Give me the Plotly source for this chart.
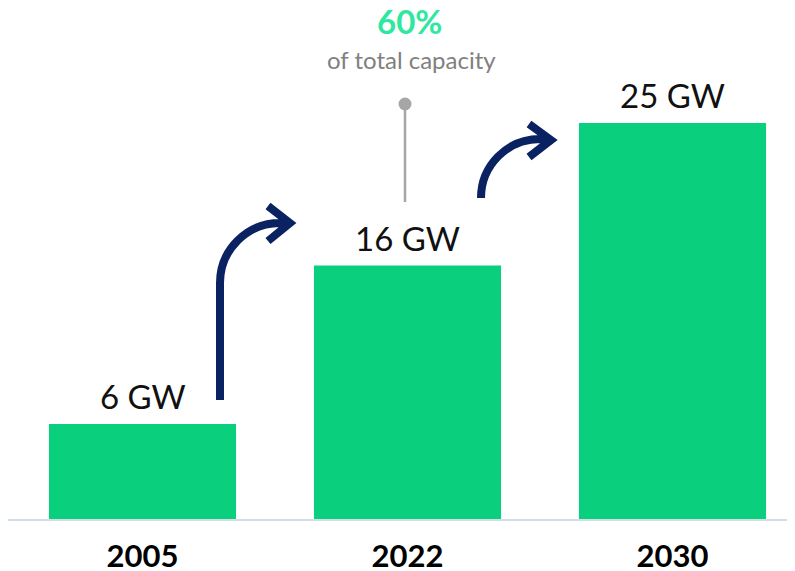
import plotly.graph_objects as go

years = ["2005", "2022", "2030"]
capacity_gw = [6, 16, 25]
bar_labels = ["6 GW", "16 GW", "25 GW"]
share_text = "60%"
share_sub = "of total capacity"

OFF = 8  # page body margin
W, H = 795 - OFF, 571 - OFF
ML, MR, MT, MB = 0, 0, 0, 52
PX_PER_CAT = 265.0
CAT0_PX = 142.5 - OFF
PX_PER_GW = 15.84
x0 = -(CAT0_PX - ML) / PX_PER_CAT
x1 = x0 + (W - ML - MR) / PX_PER_CAT
y1 = (H - MB - MT) / PX_PER_GW

def dx(px):
    return (px - OFF - CAT0_PX) / PX_PER_CAT

def dy(py):
    return (H - MB - (py - OFF)) / PX_PER_GW

FONT = "Lato"
GREEN = "#0ad07e"
NAVY = "#0b2262"
xs = list(range(len(years)))

fig = go.Figure()
fig.add_trace(go.Bar(x=xs, y=capacity_gw, width=0.706, marker=dict(color=GREEN, line=dict(width=0)),
                     hoverinfo="skip"))

# pin
fig.add_trace(go.Scatter(x=[dx(405), dx(405)], y=[dy(104), dy(202)], mode="lines",
                         line=dict(color="#a6a6a6", width=2.5), hoverinfo="skip"))
fig.add_trace(go.Scatter(x=[dx(405)], y=[dy(104)], mode="markers",
                         marker=dict(color="#a6a6a6", size=13), hoverinfo="skip"))

annotations = []
for i, (v, t) in enumerate(zip(capacity_gw, bar_labels)):
    annotations.append(dict(x=i, y=v, text=t, showarrow=False, yanchor="bottom", yshift=6,
                            font=dict(family=FONT, size=33, color="#111111")))
annotations.append(dict(x=dx(409), y=dy(21), text="<b>" + share_text + "</b>", showarrow=False,
                        font=dict(family=FONT, size=33, color="#2ee89f")))
annotations.append(dict(x=dx(411), y=dy(59), text=share_sub, showarrow=False,
                        font=dict(family=FONT, size=24, color="#808080")))

def P(px, py):
    return f"{dx(px)},{dy(py)}"

k = 0.5523 * 60
arrow1 = (f"M {P(220,400)} L {P(220,283)} C {P(220,283-k)} {P(280-k,223)} {P(280,223)} L {P(290,223)}"
          f" M {P(268,206)} L {P(290,223)} L {P(268,241)}")
k2 = 0.5523 * 59
arrow2 = (f"M {P(481,198)} C {P(481,198-k2)} {P(540-k2,139)} {P(540,139)} L {P(551,140)}"
          f" M {P(529,124)} L {P(551,140)} L {P(529,157)}")
shapes = [dict(type="path", path=p, xref="x", yref="y", line=dict(color=NAVY, width=8), layer="above")
          for p in (arrow1, arrow2)]

fig.update_layout(
    width=W, height=H, margin=dict(l=ML, r=MR, t=MT, b=MB),
    paper_bgcolor="white", plot_bgcolor="white", showlegend=False,
    annotations=annotations, shapes=shapes,
    xaxis=dict(range=[x0, x1], tickmode="array", tickvals=xs, ticktext=["<b>%s</b>" % y for y in years],
               tickfont=dict(family=FONT, size=31, color="#000000"), showgrid=False, zeroline=False,
               showline=True, linecolor="#d3dfe8", linewidth=2, ticks="", ticklabelstandoff=9,
               automargin=False, fixedrange=True),
    yaxis=dict(range=[0, y1], visible=False, fixedrange=True),
)
fig.write_html("out.html")
